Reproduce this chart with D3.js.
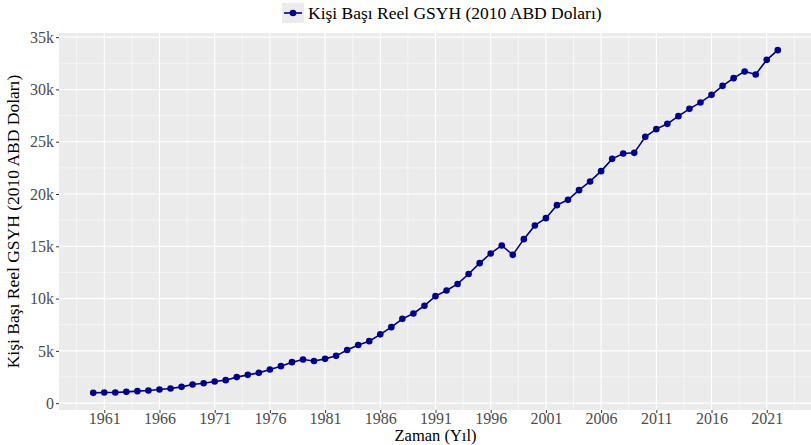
<!DOCTYPE html>
<html lang="tr">
<head>
  <meta charset="UTF-8">
  <script src="https://cdn.jsdelivr.net/npm/d3@7"></script>
  <title>Kişi Başı Reel GSYH</title>
  <style>
    body { margin: 0; background: #fff; }
    svg { display: block; font-family: "Liberation Serif", "Times New Roman", serif; }
  </style>
</head>
<body>
<script>
// Yıllar ve değerler
const years = d3.range(1960, 2023);
const gdp = [
  985, 1020, 1020, 1080, 1150, 1210, 1310, 1405, 1560, 1790,
  1910, 2070, 2200, 2490, 2706, 2898, 3223, 3538, 3921, 4179,
  4030, 4236, 4523, 5080, 5560, 5929, 6580, 7268, 8062, 8578,
  9320, 10232, 10777, 11400, 12350, 13388, 14315, 15080, 14182, 15683,
  16993, 17692, 18935, 19442, 20369, 21201, 22186, 23362, 23879, 23936,
  25466, 26203, 26710, 27446, 28144, 28756, 29482, 30343, 31080, 31720,
  31433, 32830, 33757
];
const xTicks = d3.range(1961, 2022 + 1, 5);
const yTicks = [0, 5000, 10000, 15000, 20000, 25000, 30000, 35000];
const yTickLabels = ["0", "5k", "10k", "15k", "20k", "25k", "30k", "35k"];
const seriesName = "Kişi Başı Reel GSYH (2010 ABD Doları)";

const data = years.map((y, i) => ({ year: y, value: gdp[i] }));

const w = 811, h = 445;
const m = { left: 59, right: -1, top: 33, bottom: 35 };

// ggplot gibi %5 genişletme
function expand(ext) {
  const d = (ext[1] - ext[0]) * 0.05;
  return [ext[0] - d, ext[1] + d];
}

const x = d3.scaleLinear()
  .domain(expand(d3.extent(years)))
  .range([m.left, w - m.right]);
const y = d3.scaleLinear()
  .domain(expand(d3.extent(gdp)))
  .range([h - m.bottom, m.top]);

const svg = d3.select("body").append("svg")
  .attr("width", w)
  .attr("height", h);

// panel arka planı
svg.append("rect")
  .attr("x", m.left).attr("y", m.top)
  .attr("width", w - m.right - m.left)
  .attr("height", h - m.bottom - m.top)
  .attr("fill", "#EBEBEB");

const grid = svg.append("g");
const xMinor = xTicks.map(t => t - 2.5).concat([xTicks[xTicks.length - 1] + 2.5]);
const yMinor = yTicks.slice(1).map(t => t - 2500);

grid.selectAll(".xminor").data(xMinor).enter().append("line")
  .attr("x1", d => x(d)).attr("x2", d => x(d))
  .attr("y1", m.top).attr("y2", h - m.bottom)
  .attr("stroke", "#fff").attr("stroke-width", 0.55);
grid.selectAll(".yminor").data(yMinor).enter().append("line")
  .attr("y1", d => y(d)).attr("y2", d => y(d))
  .attr("x1", m.left).attr("x2", w - m.right)
  .attr("stroke", "#fff").attr("stroke-width", 0.55);
grid.selectAll(".xmajor").data(xTicks).enter().append("line")
  .attr("x1", d => x(d)).attr("x2", d => x(d))
  .attr("y1", m.top).attr("y2", h - m.bottom)
  .attr("stroke", "#fff").attr("stroke-width", 1.1);
grid.selectAll(".ymajor").data(yTicks).enter().append("line")
  .attr("y1", d => y(d)).attr("y2", d => y(d))
  .attr("x1", m.left).attr("x2", w - m.right)
  .attr("stroke", "#fff").attr("stroke-width", 1.1);

// eksenler
const xAxis = svg.append("g")
  .attr("transform", `translate(0,${h - m.bottom})`)
  .call(d3.axisBottom(x).tickValues(xTicks).tickFormat(d3.format("d")).tickSize(3).tickPadding(0));
const yAxis = svg.append("g")
  .attr("transform", `translate(${m.left},0)`)
  .call(d3.axisLeft(y).tickValues(yTicks).tickFormat((d, i) => yTickLabels[i]).tickSize(3).tickPadding(2));

[xAxis, yAxis].forEach(a => {
  a.select(".domain").remove();
  a.selectAll(".tick line").attr("stroke", "#333").attr("stroke-width", 1);
  a.selectAll(".tick text")
    .attr("fill", "#4D4D4D")
    .attr("font-size", 16)
    .attr("font-family", "Liberation Serif");
});

// çizgi ve noktalar
const line = d3.line().x(d => x(d.year)).y(d => y(d.value));
svg.append("path")
  .datum(data)
  .attr("d", line)
  .attr("fill", "none")
  .attr("stroke", "#00008B")
  .attr("stroke-width", 1.6);
svg.selectAll("circle.pt").data(data).enter().append("circle")
  .attr("class", "pt")
  .attr("cx", d => x(d.year))
  .attr("cy", d => y(d.value))
  .attr("r", 3.3)
  .attr("fill", "#00008B");

// eksen başlıkları
svg.append("text")
  .attr("x", (m.left + w - m.right) / 2)
  .attr("y", 441)
  .attr("text-anchor", "middle")
  .attr("font-size", 16.5)
  .text("Zaman (Yıl)");
svg.append("text")
  .attr("transform", `translate(19,${(m.top + h - m.bottom) / 2}) rotate(-90)`)
  .attr("text-anchor", "middle")
  .attr("font-size", 17.5)
  .text(seriesName);

// lejant
const lg = svg.append("g").attr("transform", "translate(282,3)");
lg.append("rect")
  .attr("width", 22).attr("height", 20)
  .attr("fill", "#EBEBEB");
lg.append("line")
  .attr("x1", 2).attr("x2", 20).attr("y1", 10).attr("y2", 10)
  .attr("stroke", "#00008B").attr("stroke-width", 1.6);
lg.append("circle")
  .attr("cx", 11).attr("cy", 10).attr("r", 3.3)
  .attr("fill", "#00008B");
lg.append("text")
  .attr("x", 26).attr("y", 16)
  .attr("font-size", 17.5)
  .text(seriesName);
</script>
</body>
</html>
